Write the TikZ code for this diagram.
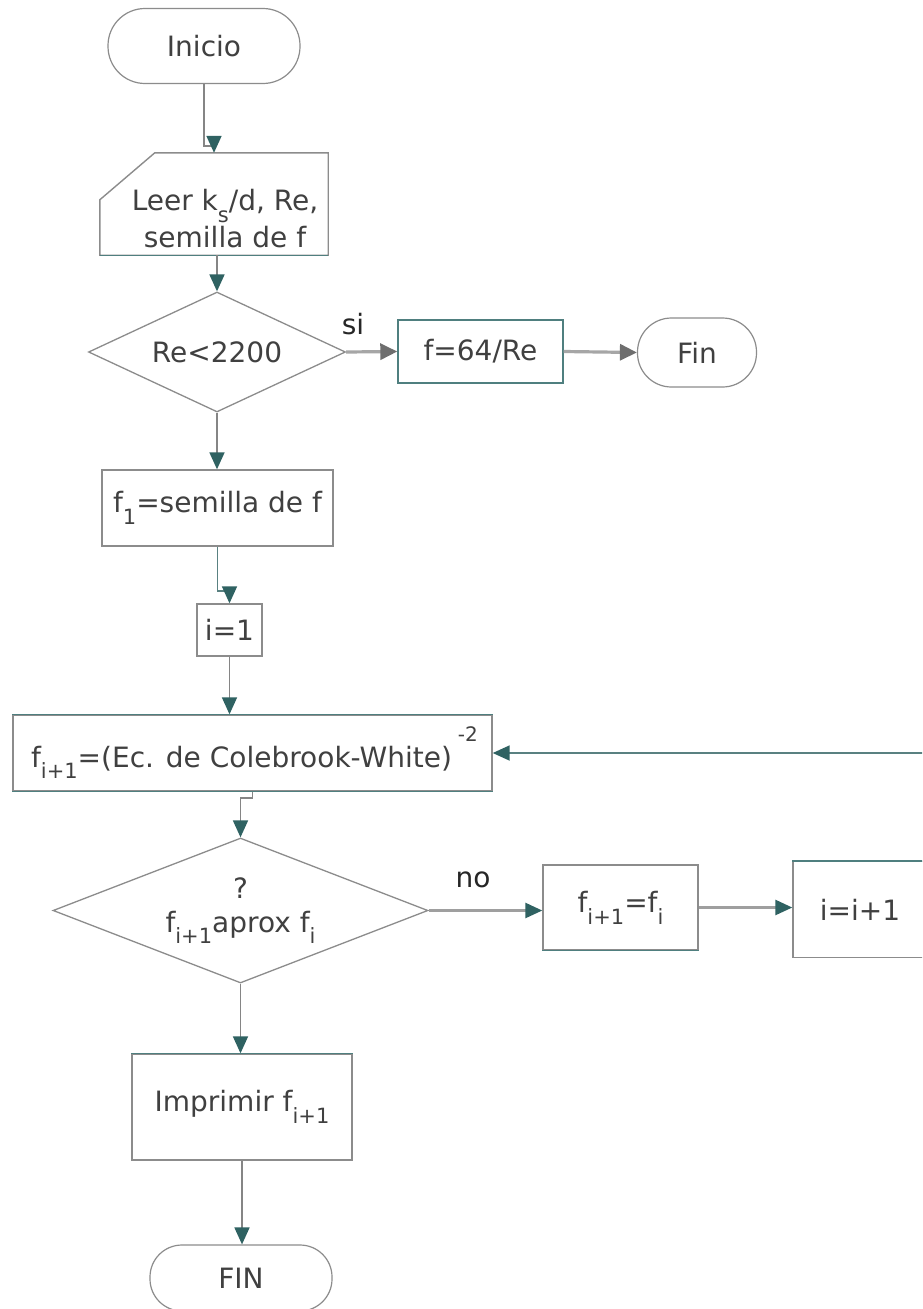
\documentclass[tikz,border=0pt]{standalone}
\usepackage{fontspec}
\setmainfont{DejaVu Sans}
\usetikzlibrary{arrows.meta,shapes.geometric,calc}
\definecolor{bgray}{HTML}{8C8C8C}
\definecolor{lgray}{HTML}{858585}
\definecolor{tealc}{HTML}{2F6262}
\definecolor{tealedge}{HTML}{4F7F7F}
\definecolor{agray}{HTML}{6E6E6E}
\definecolor{txt}{HTML}{404040}
\newcommand\lowsub[1]{\raisebox{-0.42em}{\fontsize{21}{21}\selectfont #1}}
\newcommand\highsup[1]{\raisebox{0.9em}{\fontsize{20}{20}\selectfont #1}}
\begin{document}
\begin{tikzpicture}[x=1pt,y=-1pt,
  every node/.style={text=txt,font=\fontsize{28}{34}\selectfont,inner sep=0pt},
  proc/.style={draw=bgray,line width=1.4pt,rectangle},
  term/.style={draw=bgray,line width=1.2pt,rectangle},
  dec/.style={draw=bgray,line width=1.3pt,diamond,shape aspect=2.6},
  lbl/.style={text=black!85},
  conn/.style={draw=lgray,line width=1.8pt,-{Triangle[length=17pt,width=15pt,color=tealc]}},
  tconn/.style={draw=tealc!80!white,line width=1.8pt,-{Triangle[length=17pt,width=15pt,color=tealc]}},
  gconn/.style={draw=gray!70,line width=3.2pt,-{Triangle[length=17pt,width=16pt,color=agray]}},
  nconn/.style={draw=gray!75,line width=2.6pt,-{Triangle[length=17pt,width=15pt,color=tealc]}},
  edge teal/.style={draw=tealedge,line width=1.4pt}
]
\useasboundingbox (0,0) rectangle (922,1309);
\fill[white] (0,0) rectangle (922,1309);
\clip (0,0) rectangle (922,1309);

% nodes
\node[term,rounded corners=37pt,minimum width=192pt,minimum height=75pt] (inicio) at (204,46) {Inicio};
\node[minimum width=228pt,minimum height=102pt] (leer) at (214,204) {};
\draw[draw=bgray,line width=1.4pt] (leer.south west) -- (leer.south east) -- (leer.north east) -- ([xshift=55pt]leer.north west) -- ([yshift=-47pt]leer.north west) -- cycle;
\draw[edge teal] (leer.south west) -- (leer.south east);
\node[align=center,font=\fontsize{28}{37}\selectfont] (leertxt) at (225,219) {Leer k\lowsub{s}/d, Re,\\semilla de f};

\node[dec,minimum width=257pt,minimum height=120pt] (d1) at (217,352) {Re<2200};
\node[proc,draw=tealedge,minimum width=165pt,minimum height=63pt] (f64) at (480.5,351.5) {f=64/Re};
\node[term,rounded corners=34pt,minimum width=119pt,minimum height=69pt] (fin1) at (697,352.5) {Fin};
\node[lbl] (si) at (353,324) {si};

\node[proc,minimum width=231pt,minimum height=76pt] (f1) at (217.5,508) {f\lowsub{1}=semilla de f};
\node[proc,minimum width=65pt,minimum height=52pt] (i1) at (229.5,630) {i=1};
\node[proc,minimum width=479pt,minimum height=76pt] (cole) at (252.5,753) {\hspace{4pt}f\lowsub{i+1}=(Ec. de Colebrook-White)\hspace{6pt}\highsup{-2}};
\draw[edge teal] (cole.north west) -- (cole.north east);
\draw[edge teal] (cole.south west) -- (cole.south east);

\node[dec,minimum width=375pt,minimum height=145pt,align=center] (d2) at (240.5,910.5) {?\\f\lowsub{i+1}aprox f\lowsub{i}};
\node[lbl] (no) at (473,880) {no};
\node[proc,minimum width=155pt,minimum height=85pt] (fif) at (620.5,907.5) {f\lowsub{i+1}=f\lowsub{i}};
\draw[edge teal] (fif.south west) -- (fif.south east);
\node[proc,minimum width=207pt,minimum height=96pt] (inc) at (896.5,909.5) {};
\draw[edge teal] (inc.north west) -- (inc.north east);
\node (inctxt) at (860,910) {i=i+1};

\node[proc,minimum width=220pt,minimum height=106pt] (imp) at (242,1107) {Imprimir f\lowsub{i+1}};
\draw[edge teal] (imp.north west) -- (imp.north east);
\node[term,rounded corners=32pt,minimum width=182pt,minimum height=66pt] (fin2) at (241,1278) {FIN};

% connectors
\draw[conn] (inicio.south) |- ([yshift=7pt]leer.north) -- (leer.north);
\draw[conn] (leer.south -| d1.north) -- (d1.north);
\draw[gconn] (d1.east) -- (f64.west);
\draw[gconn] (f64.east) -- (fin1.west);
\draw[conn] (d1.south) -- (d1.south |- f1.north);
\draw[tconn] (f1.south) |- ([yshift=12pt]i1.north) -- (i1.north);
\draw[conn] (i1.south) -- (i1.south |- cole.north);
\draw[conn] (cole.south) -- ++(0,6) -| (d2.north);
\draw[nconn] (d2.east) -- (d2.east -| fif.west);
\draw[nconn] (fif.east) -- (fif.east -| inc.west);
\draw[conn] (d2.south) -- (d2.south |- imp.north);
\draw[conn] (imp.south) -- (imp.south |- fin2.north);
\draw[tconn] (inc.east) -- ++(30,0) |- (cole.east);
\end{tikzpicture}
\end{document}
